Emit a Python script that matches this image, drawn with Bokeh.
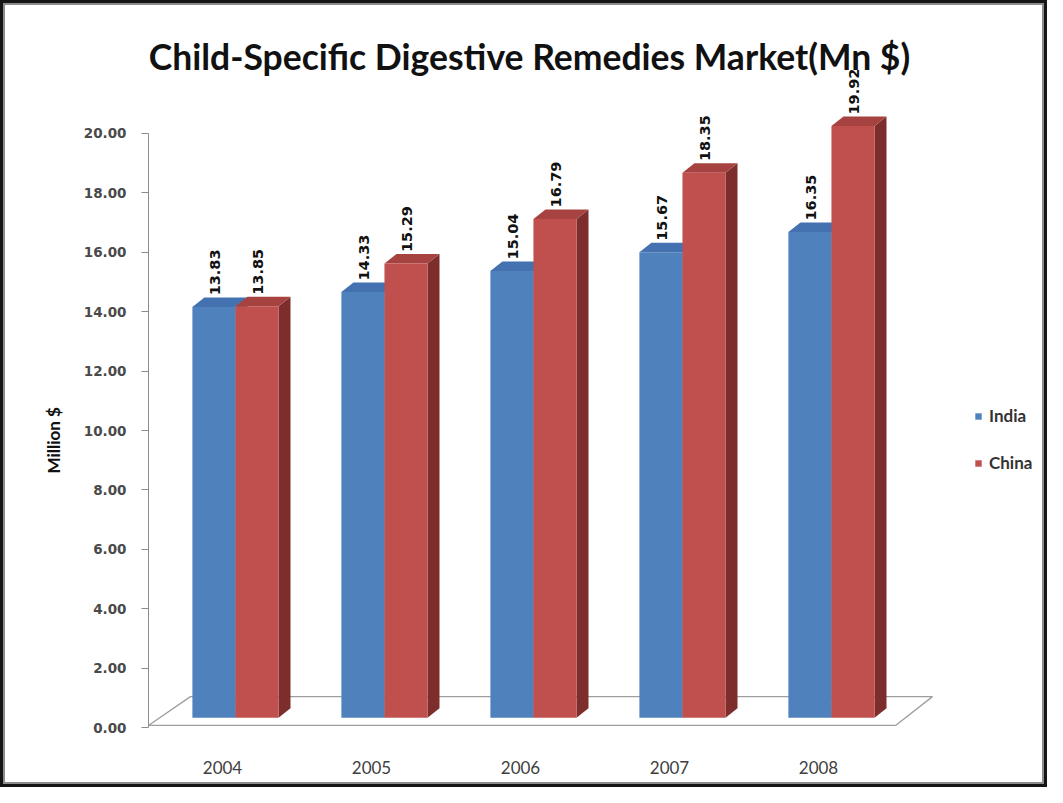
import numpy as np
from bokeh.plotting import figure
from bokeh.layouts import column
from bokeh.models import (FixedTicker, PrintfTickFormatter, Label, Legend, LegendItem,
                          Range1d, Title)
from bokeh.embed import file_html
from bokeh.resources import INLINE

# ---- data ----
years = ["2004", "2005", "2006", "2007", "2008"]
india = [13.83, 14.33, 15.04, 15.67, 16.35]
china = [13.85, 15.29, 16.79, 18.35, 19.92]
y_ticks = [0, 2, 4, 6, 8, 10, 12, 14, 16, 18, 20]
title_text = "Child-Specific Digestive Remedies Market(Mn $)"
y_title = "Million $"

# ---- layout / style constants ----
W_FIG, H_FIG = 1037, 777
BAR_W = 0.289       # width of one bar (category units)
PAIR_OFF = 0.087    # shift of the pair centre from the category tick
DX, DY = 0.0805, 0.32   # 3D depth vector
BASE = 0.33         # floor offset of bar front faces

C_IND = dict(front="#4F81BD", top="#4472B0", side="#2F5487")
C_CHN = dict(front="#C0504D", top="#A6423F", side="#7D2E2C")

p = figure(width=W_FIG, height=H_FIG, output_backend="svg", toolbar_location=None,
           x_range=Range1d(-0.4966, 5.490), y_range=Range1d(-0.505, 23.872),
           min_border_left=143, min_border_right=2, min_border_top=13,
           min_border_bottom=40)
p.background_fill_color = "white"
p.border_fill_color = "white"
p.outline_line_color = None
p.xgrid.visible = False
p.ygrid.visible = False

# floor
p.patch([-0.497, 4.517, 4.765, -0.215], [0.07, 0.07, 1.04, 1.04],
        fill_color="white", line_color="#9E9E9E", line_width=1.3)

idx = np.arange(len(years))

def bars(vals, left, colors):
    vals = np.asarray(vals, dtype=float)
    L = left
    R = left + BAR_W
    T = BASE + vals
    side_xs = [[r, r + DX, r + DX, r] for r in R]
    side_ys = [[BASE, BASE + DY, t + DY, t] for t in T]
    top_xs = [[l, r, r + DX, l + DX] for l, r in zip(L, R)]
    top_ys = [[t, t, t + DY, t + DY] for t in T]
    p.patches(side_xs, side_ys, fill_color=colors["side"], line_color=None)
    p.patches(top_xs, top_ys, fill_color=colors["top"], line_color=None)
    r = p.quad(left=L, right=R, bottom=BASE, top=T, fill_color=colors["front"],
               line_color=None)
    return r, (L + R) / 2, T

r_ind, cx_ind, t_ind = bars(india, idx + PAIR_OFF - BAR_W, C_IND)
r_chn, cx_chn, t_chn = bars(china, idx + PAIR_OFF, C_CHN)

# data labels
for cx, tt, vals in ((cx_ind, t_ind, india), (cx_chn, t_chn, china)):
    p.text(x=cx + 0.01, y=tt + DY + 0.07, text=["%.2f" % v for v in vals],
           angle=np.pi / 2, text_align="left", text_baseline="middle",
           text_font={"value": "DejaVu Sans"}, text_font_style="bold",
           text_font_size="14.5px", text_color="#111111")

# axes
ya = p.yaxis[0]
ya.ticker = FixedTicker(ticks=y_ticks)
ya.formatter = PrintfTickFormatter(format="%.2f")
ya.bounds = (0, 20)
ya.axis_line_color = "#8C8C8C"
ya.major_tick_line_color = "#8C8C8C"
ya.major_tick_out = 7
ya.major_tick_in = 0
ya.minor_tick_line_color = None
ya.major_label_standoff = 15
ya.major_label_text_font = "DejaVu Sans"
ya.major_label_text_font_style = "bold"
ya.major_label_text_font_size = "13.5px"
ya.major_label_text_color = "#4A4A4A"

xa = p.xaxis[0]
xa.ticker = FixedTicker(ticks=list(idx))
xa.major_label_overrides = {int(i): y for i, y in zip(idx, years)}
xa.axis_line_color = None
xa.major_tick_line_color = None
xa.minor_tick_line_color = None
xa.major_label_standoff = 12
xa.major_label_text_font = "Lato"
xa.major_label_text_font_size = "17px"
xa.major_label_text_color = "#404040"

# title (inside the frame area) and y-axis title (left panel)
p.add_layout(Label(x=2.06, y=22.59, text=title_text, text_align="center",
                   text_baseline="middle", text_font="Lato", text_font_style="bold",
                   text_font_size="35.5px", text_color="#111111"))
p.add_layout(Title(text=y_title, align="left", offset=269, standoff=33,
                   text_font="Lato", text_font_style="bold",
                   text_font_size="17px", text_color="#111111"), "left")

# legend
legend = Legend(items=[LegendItem(label="India", renderers=[r_ind]),
                       LegendItem(label="China", renderers=[r_chn])],
                location=(826, 269), orientation="vertical",
                glyph_width=8, glyph_height=8, label_height=20, spacing=26,
                label_standoff=7, padding=0, margin=0,
                border_line_color=None, background_fill_alpha=0,
                label_text_font="Lato", label_text_font_style="bold",
                label_text_font_size="17px", label_text_color="#333333")
p.add_layout(legend)

page = column(p, styles={"border": "3px solid #151515", "padding": "2px",
                         "background-color": "white",
                         "box-shadow": "inset 0 0 0 2px #8C8C8C"})

open("out.html", "w").write(file_html(page, INLINE))
